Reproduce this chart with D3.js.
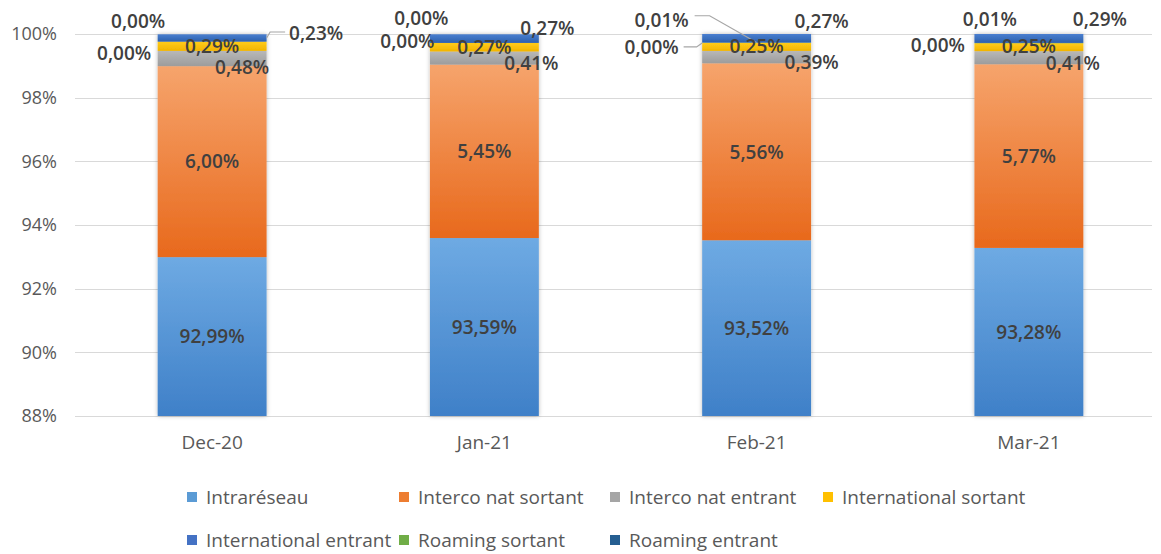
<!DOCTYPE html>
<html>
<head>
<meta charset="utf-8">
<script src="https://cdn.jsdelivr.net/npm/d3@7/dist/d3.min.js"></script>
<style>
  html, body { margin: 0; padding: 0; background: #ffffff; }
  svg { display: block; font-family: "Open Sans", "Noto Sans", sans-serif; }
</style>
</head>
<body>
<svg id="chart" width="1161" height="554"></svg>
<script>
// ---------- DATA ----------
const categories = ["Dec-20", "Jan-21", "Feb-21", "Mar-21"];
const seriesNames = ["Intraréseau", "Interco nat sortant", "Interco nat entrant", "International sortant",
                     "International entrant", "Roaming sortant", "Roaming entrant"];
const intrareseau          = [92.99, 93.59, 93.52, 93.28];
const intercoNatSortant    = [6.00, 5.45, 5.56, 5.77];
const intercoNatEntrant    = [0.48, 0.41, 0.39, 0.41];
const internationalSortant = [0.29, 0.27, 0.25, 0.25];
const internationalEntrant = [0.00, 0.00, 0.00, 0.00];
const roamingSortant       = [0.00, 0.00, 0.01, 0.01];
const roamingEntrant       = [0.23, 0.27, 0.27, 0.29];
const yTicks = [88, 90, 92, 94, 96, 98, 100];

// ---------- STYLE / LAYOUT ----------
const seriesValues = [intrareseau, intercoNatSortant, intercoNatEntrant, internationalSortant,
                      internationalEntrant, roamingSortant, roamingEntrant];
const legendColors = ["#5b9bd5", "#ed7d31", "#a5a5a5", "#ffc000", "#4472c4", "#70ad47", "#255e91"];
const gradTop    = ["#6eaae3", "#f6a46c", "#b8b8b8", "#ffcb1a", "#4f82d6", "#7cba52", "#4a7fd0"];
const gradBottom = ["#3f80c8", "#e8691c", "#9c9c9c", "#f2b400", "#3a66b8", "#5f9a3c", "#2c60ac"];
// label offsets [dx, dy] from segment centre, per series, per category
const labelOffsets = [
  [[0, 0], [0, 0], [0, 0], [0, 0]],
  [[0, 0], [0, 0], [0, 0], [0, 0]],
  [[30, 9], [47, 5], [55, 5], [44, 5]],
  [[0, 0], [0, 0], [0, -1], [0, -1]],
  [[-88, 12], [-77, -2], [-105, 4], [-91, 2]],
  [[-74, -20], [-63, -25], [-95, -23], [-39, -24]],
  [[104, -5], [63, -10], [65, -17], [71, -19]]
];
// leader lines: points relative to the label, final point on the bar
const leaders = [
  { s: 6, c: 0, pts: [[-31, -1], [-46, -1]], end: "right-mid" },
  { s: 5, c: 2, pts: [[33, -4], [48, -4]], end: "center-top" },
  { s: 4, c: 2, pts: [[32, 0], [45, 0]], end: "left-mid" }
];

const W = 1161, H = 554;
const plotLeft = 76, plotRight = 1165, gridRight = 1152;
const yTop = 34, yBottom = 416;

const svg = d3.select("#chart");
const defs = svg.append("defs");

seriesNames.forEach((n, i) => {
  const g = defs.append("linearGradient").attr("id", "grad" + i)
    .attr("x1", 0).attr("y1", 0).attr("x2", 0).attr("y2", 1);
  g.append("stop").attr("offset", "0%").attr("stop-color", gradTop[i]);
  g.append("stop").attr("offset", "100%").attr("stop-color", gradBottom[i]);
});
const filt = defs.append("filter").attr("id", "shadow")
  .attr("x", "-10%").attr("y", "-10%").attr("width", "120%").attr("height", "120%");
filt.append("feDropShadow").attr("dx", 0).attr("dy", 0).attr("stdDeviation", 2)
  .attr("flood-color", "#000").attr("flood-opacity", 0.28);

const x = d3.scaleBand().domain(categories).range([plotLeft, plotRight]).paddingInner(0.6).paddingOuter(0.3);
const y = d3.scaleLinear().domain([88, 100]).range([yBottom, yTop]);

// gridlines
svg.append("g").selectAll("line").data(yTicks).join("line")
  .attr("x1", 75).attr("x2", gridRight)
  .attr("y1", d => Math.round(y(d)) + 0.5).attr("y2", d => Math.round(y(d)) + 0.5)
  .attr("stroke", "#d9d9d9").attr("stroke-width", 1);

// y axis labels
const yAxis = d3.axisLeft(y).tickValues(yTicks).tickSize(0).tickPadding(18).tickFormat(d => d + "%");
const gy = svg.append("g").attr("transform", `translate(75,0)`).call(yAxis);
gy.select(".domain").remove();
gy.selectAll("text").attr("font-size", 18).attr("fill", "#595959")
  .attr("font-family", "Open Sans, sans-serif");

// x axis labels
const xAxis = d3.axisBottom(x).tickSize(0).tickPadding(20);
const gx = svg.append("g").attr("transform", `translate(0,${yBottom})`).call(xAxis);
gx.select(".domain").remove();
gx.selectAll("text").attr("font-size", 19).attr("fill", "#595959")
  .attr("font-family", "Open Sans, sans-serif");

// stacked data
const table = categories.map((c, ci) => {
  const o = { cat: c };
  seriesNames.forEach((s, si) => { o[s] = seriesValues[si][ci]; });
  return o;
});
const stacked = d3.stack().keys(seriesNames)(table);

const clampY = v => y(Math.max(88, Math.min(100, v)));

// bars grouped per category (for shadow)
const barGroups = svg.append("g").selectAll("g.bar").data(categories).join("g")
  .attr("class", "bar").attr("filter", "url(#shadow)");
barGroups.selectAll("rect").data((c, ci) => stacked.map((s, si) => ({ si, ci, lo: s[ci][0], hi: s[ci][1], cat: c })))
  .join("rect")
  .attr("x", d => x(d.cat))
  .attr("width", x.bandwidth())
  .attr("y", d => clampY(d.hi))
  .attr("height", d => Math.max(0, clampY(d.lo) - clampY(d.hi)))
  .attr("fill", d => `url(#grad${d.si})`);

// labels
const fmt = v => d3.format(".2f")(v).replace(".", ",") + "%";
const labelPos = (si, ci) => {
  const s = stacked[si][ci];
  const lo = Math.max(88, s[0]), hi = Math.min(100, s[1]);
  const cx = x(categories[ci]) + x.bandwidth() / 2;
  const cy = y((lo + hi) / 2);
  const off = labelOffsets[si][ci];
  return [cx + off[0], cy + off[1]];
};
const labelData = [];
seriesNames.forEach((s, si) => categories.forEach((c, ci) => {
  const p = labelPos(si, ci);
  labelData.push({ si, ci, x: p[0], y: p[1], v: seriesValues[si][ci] });
}));

// leader lines
svg.append("g").selectAll("polyline").data(leaders).join("polyline")
  .attr("points", d => {
    const p = labelPos(d.s, d.c);
    const pts = d.pts.map(q => [p[0] + q[0], p[1] + q[1]]);
    const st = stacked[d.s][d.c];
    const left = x(categories[d.c]), right = left + x.bandwidth();
    let e;
    if (d.end === "right-mid") e = [right, clampY((st[0] + st[1]) / 2)];
    else if (d.end === "left-mid") e = [left, clampY((st[0] + st[1]) / 2)];
    else e = [left + x.bandwidth() / 2, clampY(st[1])];
    pts.push(e);
    return pts.map(q => q.join(",")).join(" ");
  })
  .attr("fill", "none").attr("stroke", "#a6a6a6").attr("stroke-width", 1.2);

svg.append("g").selectAll("text").data(labelData).join("text")
  .attr("x", d => d.x).attr("y", d => d.y).attr("dy", "0.36em")
  .attr("text-anchor", "middle")
  .attr("font-size", 19).attr("font-weight", 600).attr("fill", "#404040")
  .text(d => fmt(d.v));

// legend
const legendCols = [187, 399, 610, 823];
const legendRows = [497, 540];
const lg = svg.append("g").selectAll("g").data(seriesNames).join("g")
  .attr("transform", (d, i) => `translate(${legendCols[i % 4]},${legendRows[Math.floor(i / 4)]})`);
lg.append("rect").attr("x", 0).attr("y", -5).attr("width", 10).attr("height", 10)
  .attr("fill", (d, i) => legendColors[i]);
lg.append("text").attr("x", 19).attr("y", 0).attr("dy", "0.35em")
  .attr("font-size", 19).attr("fill", "#595959").text(d => d);
</script>
</body>
</html>
